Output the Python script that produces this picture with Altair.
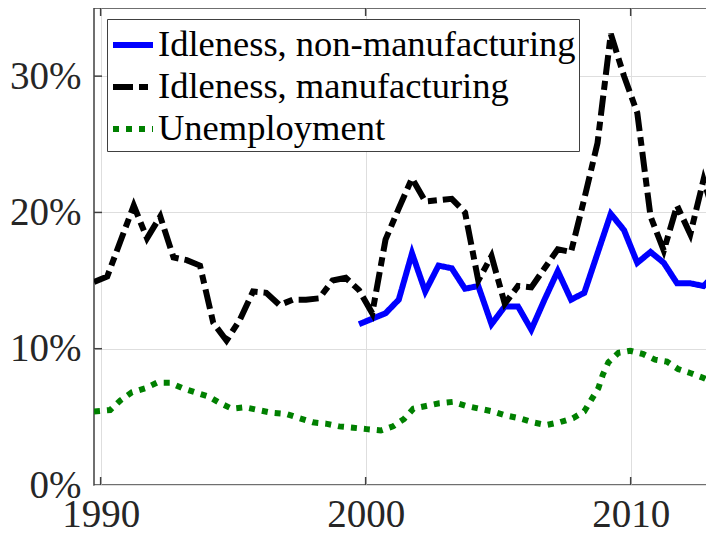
import altair as alt
import pandas as pd

# ---- data (values in percent) ----
nonman_years = [1999.75, 2000.25, 2000.75, 2001.25, 2001.75, 2002.25, 2002.75, 2003.25,
                2003.75, 2004.25, 2004.75, 2005.25, 2005.75, 2006.25, 2006.75, 2007.25,
                2007.75, 2008.25, 2008.75, 2009.25, 2009.75, 2010.25, 2010.75, 2011.25,
                2011.75, 2012.25, 2012.75, 2013.25]
nonman_vals = [11.8, 12.2, 12.6, 13.6, 17.0, 14.2, 16.1, 15.9,
               14.4, 14.6, 11.8, 13.1, 13.1, 11.4, 13.6, 15.7,
               13.6, 14.1, 17.0, 19.9, 18.7, 16.3, 17.1, 16.3,
               14.8, 14.8, 14.6, 15.6]

man_years = [1989.75, 1990.25, 1990.75, 1991.25, 1991.75, 1992.25, 1992.75, 1993.25,
             1993.75, 1994.25, 1994.75, 1995.25, 1995.75, 1996.25, 1996.75, 1997.25,
             1997.75, 1998.25, 1998.75, 1999.25, 1999.75, 2000.25, 2000.75, 2001.25,
             2001.75, 2002.25, 2002.75, 2003.25, 2003.75, 2004.25, 2004.75, 2005.25,
             2005.75, 2006.25, 2006.75, 2007.25, 2007.75, 2008.25, 2008.75, 2009.25,
             2009.75, 2010.25, 2010.75, 2011.25, 2011.75, 2012.25, 2012.75, 2013.25]
man_vals = [14.9, 15.3, 17.9, 20.5, 18.1, 19.7, 16.7, 16.5,
            16.1, 11.9, 10.6, 12.1, 14.2, 14.1, 13.2, 13.6,
            13.6, 13.7, 15.0, 15.2, 14.3, 12.6, 18.0, 20.3,
            22.5, 20.8, 20.9, 21.0, 20.0, 15.0, 16.8, 13.3,
            14.6, 14.5, 15.9, 17.3, 17.1, 21.0, 25.1, 33.1,
            30.0, 27.3, 19.7, 17.2, 20.5, 18.4, 22.4, 19.2]

unemp_years = [1989.75, 1990.36, 1990.74, 1991.18, 1991.68, 1992.12, 1992.62, 1993.1,
               1993.57, 1994.07, 1994.51, 1994.95, 1995.45, 1995.95, 1996.46, 1997.03,
               1997.5, 1998.0, 1998.5, 1999.0, 1999.54, 2000.04, 2000.57, 2001.03,
               2001.45, 2001.8, 2002.28, 2002.78, 2003.29, 2003.79, 2004.29, 2004.8,
               2005.3, 2005.8, 2006.31, 2006.81, 2007.31, 2007.82, 2008.25, 2008.53,
               2008.78, 2008.95, 2009.16, 2009.54, 2009.98, 2010.48, 2010.92, 2011.37,
               2011.8, 2012.27, 2012.75, 2013.13, 2013.25]
unemp_vals = [5.4, 5.5, 6.2, 6.8, 7.1, 7.5, 7.5, 7.1,
              6.8, 6.5, 6.0, 5.6, 5.7, 5.5, 5.3, 5.2,
              4.9, 4.6, 4.5, 4.3, 4.2, 4.1, 4.0, 4.3,
              4.85, 5.6, 5.8, 6.0, 6.1, 5.8, 5.6, 5.4,
              5.1, 4.9, 4.6, 4.4, 4.6, 4.9, 5.4, 6.3,
              7.1, 8.1, 9.0, 9.7, 9.85, 9.6, 9.2, 9.05,
              8.5, 8.2, 7.85, 7.5, 7.4]

series_names = ["Idleness, non-manufacturing", "Idleness, manufacturing", "Unemployment"]
series_colors = ["#0000ff", "#000000", "#008000"]
series_dashes = [[1, 0], [20, 6, 9, 6], [6, 7]]

x_ticks = [1990, 2000, 2010]
y_ticks = [0.0, 0.1, 0.2, 0.3]

rows = []
for name, xs, vs in zip(series_names,
                        [nonman_years, man_years, unemp_years],
                        [nonman_vals, man_vals, unemp_vals]):
    for x, v in zip(xs, vs):
        rows.append({"year": x, "rate": v / 100.0, "series": name})
df = pd.DataFrame(rows)

W, H = 622, 477
FONT = "Liberation Serif"
AX = "#262626"

xscale = alt.Scale(domain=[1989.75, 2013.22], nice=False, zero=False)
yscale = alt.Scale(domain=[0, 0.35], nice=False)

legend = alt.Legend(
    orient="none", legendX=13, legendY=11, title=None,
    labelFont=FONT, labelFontSize=36.5, labelColor="black", labelLimit=800,
    labelOffset=2, symbolType="stroke", symbolSize=1600, symbolStrokeWidth=6,
    strokeColor="#404040", fillColor="white", padding=3, rowPadding=-2,
)

x_axis = alt.Axis(values=x_ticks, format="d", title=None, labelFont=FONT,
                  labelFontSize=39, labelColor=AX, ticks=False, domain=False,
                  labelPadding=10, gridColor="#dedede", gridWidth=1, labelFlush=False)
y_axis = alt.Axis(values=y_ticks, format=".0%", title=None, labelFont=FONT,
                  labelFontSize=39, labelColor=AX, ticks=False, domain=False,
                  labelPadding=13, gridColor="#dedede", gridWidth=1)

lines = alt.Chart(df).mark_line(clip=True, strokeWidth=6).encode(
    x=alt.X("year:Q", scale=xscale, axis=x_axis),
    y=alt.Y("rate:Q", scale=yscale, axis=y_axis),
    color=alt.Color("series:N", scale=alt.Scale(domain=series_names, range=series_colors),
                    legend=legend),
    strokeDash=alt.StrokeDash("series:N",
                              scale=alt.Scale(domain=series_names, range=series_dashes),
                              legend=legend),
)

ydf = pd.DataFrame({"v": y_ticks[1:]})
xdf = pd.DataFrame({"v": x_ticks})
tick_color = "#404040"
left_ticks = alt.Chart(ydf).mark_rule(color=tick_color, strokeWidth=1.5).encode(
    y=alt.Y("v:Q", scale=yscale, axis=y_axis), x=alt.value(0), x2=alt.value(8))
right_ticks = alt.Chart(ydf).mark_rule(color=tick_color, strokeWidth=1.5).encode(
    y=alt.Y("v:Q", scale=yscale, axis=y_axis), x=alt.value(W - 8), x2=alt.value(W))
bottom_ticks = alt.Chart(xdf).mark_rule(color=tick_color, strokeWidth=1.5).encode(
    x=alt.X("v:Q", scale=xscale, axis=x_axis), y=alt.value(H), y2=alt.value(H - 8))
top_ticks = alt.Chart(xdf).mark_rule(color=tick_color, strokeWidth=1.5).encode(
    x=alt.X("v:Q", scale=xscale, axis=x_axis), y=alt.value(0), y2=alt.value(8))

chart = alt.layer(lines, left_ticks, right_ticks, bottom_ticks, top_ticks).properties(
    width=W, height=H,
    autosize=alt.AutoSizeParams(type="none"),
    padding={"left": 86, "top": 0, "right": -10, "bottom": 56},
).configure(font=FONT).configure_axis(
    labelFont=FONT
).configure_legend(
    labelFont=FONT
).configure_view(stroke="#404040", strokeWidth=1.5)

chart.save("out.html", embed_options={"renderer": "svg", "actions": False})
